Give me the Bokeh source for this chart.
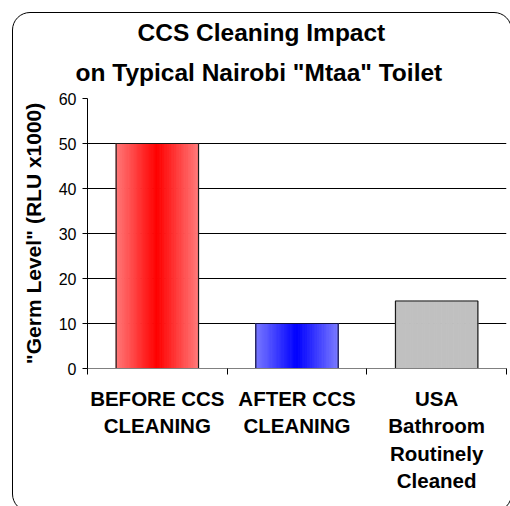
from bokeh.plotting import figure
from bokeh.models import Range1d, FixedTicker, Title, ColumnDataSource, InlineStyleSheet
from bokeh.embed import file_html
from bokeh.resources import INLINE

# ---- data ----
categories = ["BEFORE CCS\nCLEANING", "AFTER CCS\nCLEANING", "USA\nBathroom\nRoutinely\nCleaned"]
values = [50, 10, 15]
y_ticks = [0, 10, 20, 30, 40, 50, 60]
title_lines = ["CCS Cleaning Impact", 'on Typical Nairobi "Mtaa" Toilet']
y_label = '"Germ Level" (RLU x1000)'

# ---- styles ----
edge_colors = [(255, 122, 122), (122, 122, 255), (192, 192, 192)]
center_colors = [(255, 0, 0), (0, 0, 255), (192, 192, 192)]
outline_colors = ["#1a1a1a", "#101040", "#1a1a1a"]
BAR_W = 0.59
N_STRIPS = 48
FONT = "Liberation Sans"

border_css = InlineStyleSheet(css="""
:host { overflow: hidden; }
:host::after {
  content: ""; position: absolute; left: 12px; top: 12px;
  width: 500px; height: 500px; border: 1.3px solid #000;
  border-radius: 18px; pointer-events: none; box-sizing: border-box;
}
""")

p = figure(width=510, height=506, output_backend="svg", toolbar_location=None,
           x_range=Range1d(0, len(categories)), y_range=Range1d(0, 60),
           min_border_left=87, min_border_right=4, min_border_top=98, min_border_bottom=138,
           stylesheets=[border_css])
p.background_fill_color = "white"
p.border_fill_color = "white"
p.outline_line_color = None
p.xgrid.grid_line_color = None
p.ygrid.grid_line_color = "black"
p.ygrid.grid_line_width = 1
p.ygrid.ticker = FixedTicker(ticks=y_ticks)

# gradient strips
xs, ws, cols, tops = [], [], [], []
for ci, v in enumerate(values):
    cx = ci + 0.5
    sw = BAR_W / N_STRIPS
    for i in range(N_STRIPS):
        t = abs((i + 0.5) / N_STRIPS * 2 - 1)
        e, c = edge_colors[ci], center_colors[ci]
        rgb = tuple(int(round(c[k] + (e[k] - c[k]) * t)) for k in range(3))
        xs.append(cx - BAR_W / 2 + (i + 0.5) * sw)
        ws.append(sw)
        cols.append("#%02x%02x%02x" % rgb)
        tops.append(v)
p.vbar(x="x", width="w", top="top", bottom=0, fill_color="c", line_color="c",
       line_width=1, source=ColumnDataSource(dict(x=xs, w=ws, c=cols, top=tops)))
# outlines
p.vbar(x=[i + 0.5 for i in range(len(values))], width=BAR_W, top=values, bottom=0,
       fill_alpha=0, line_color=outline_colors, line_width=1.2)

# y axis
ya = p.yaxis[0]
ya.ticker = FixedTicker(ticks=y_ticks)
ya.axis_line_color = "black"
ya.major_tick_line_color = "black"
ya.major_tick_out = 5
ya.major_tick_in = 0
ya.minor_tick_line_color = None
ya.major_label_text_font = FONT
ya.major_label_text_font_size = "16px"
ya.major_label_text_color = "black"
ya.major_label_standoff = 6
ya.axis_label = y_label
ya.axis_label_text_font = FONT
ya.axis_label_text_font_size = "21px"
ya.axis_label_text_font_style = "bold"
ya.axis_label_text_color = "black"
ya.axis_label_standoff = 11

# x axis
xa = p.xaxis[0]
xa.ticker = FixedTicker(ticks=[i + 0.5 for i in range(len(categories))],
                        minor_ticks=list(range(len(categories) + 1)))
xa.major_label_overrides = {i + 0.5: c for i, c in enumerate(categories)}
xa.major_tick_line_color = None
xa.major_tick_out = 0
xa.major_tick_in = 0
xa.minor_tick_line_color = "black"
xa.minor_tick_out = 6
xa.minor_tick_in = 0
xa.axis_line_color = "#808080"
xa.major_label_text_font = FONT
xa.major_label_text_font_size = "20.5px"
xa.major_label_text_font_style = "bold"
xa.major_label_text_color = "black"
xa.major_label_standoff = 12

# title (second line added first: it sits nearest the plot)
for ln, so, off in zip(title_lines[::-1], [25, -3], [-12, 50]):
    p.add_layout(Title(text=ln, align="left", standoff=so, offset=off, text_font=FONT,
                       text_font_size="24.5px", text_font_style="bold",
                       text_color="black"), "above")

open("out.html", "w").write(file_html(p, INLINE))
